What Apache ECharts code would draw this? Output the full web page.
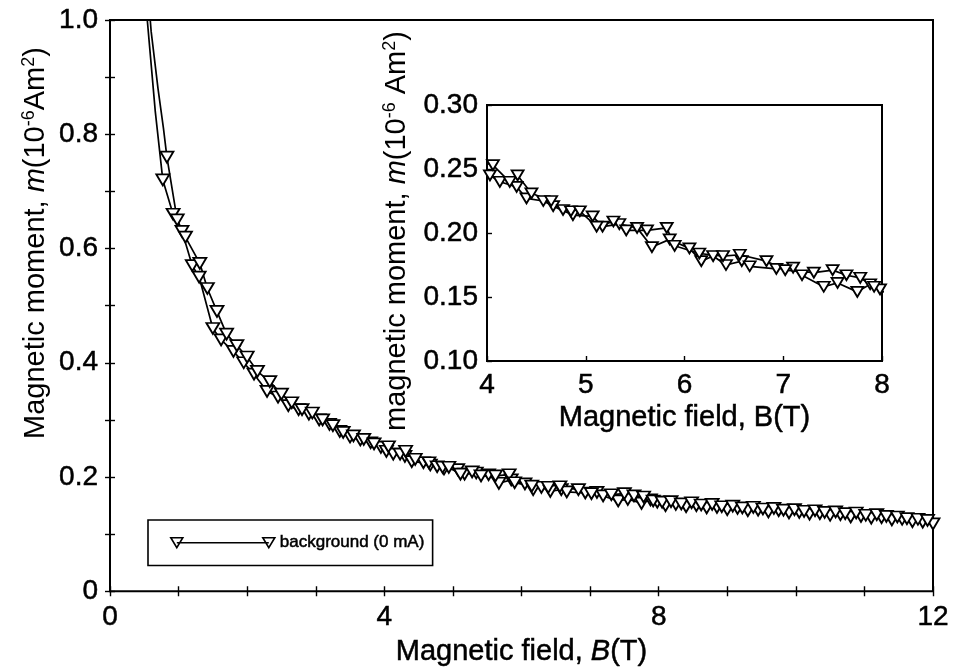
<!DOCTYPE html>
<html><head><meta charset="utf-8">
<script src="https://cdn.jsdelivr.net/npm/echarts@6/dist/echarts.min.js"></script>
<style>html,body{margin:0;padding:0;background:#fff}#c{width:955px;height:672px}</style>
</head><body><div id="c"></div>
<script>
// ---------- data ----------
const seriesName = 'background (0 mA)';
const fieldA = [0.42,0.50,0.58,0.66,0.77,0.92,1.05,1.20,1.30,1.50,1.62,1.80,1.95,2.10,2.29,2.45,2.60,2.75,2.90,3.05,3.20,3.35,3.50,3.65,3.80,3.95,4.03,4.13,4.30,4.40,4.57,4.67,4.87,5.07,5.17,5.34,5.52,5.67,5.85,6.05,6.17,6.29,6.42,6.58,6.66,6.93,7.10,7.19,7.41,7.55,7.75,7.88,7.98,8.10,8.25,8.40,8.55,8.70,8.85,9.00,9.15,9.30,9.45,9.60,9.75,9.90,10.05,10.20,10.35,10.50,10.65,10.80,10.95,11.10,11.25,11.40,11.55,11.70,11.85,12.00];
const momentA = [1.20,1.06,0.95,0.84,0.72,0.66,0.63,0.57,0.55,0.46,0.44,0.42,0.40,0.38,0.35,0.34,0.325,0.318,0.31,0.30,0.292,0.28,0.27,0.265,0.26,0.252,0.245,0.240,0.236,0.227,0.225,0.221,0.214,0.213,0.205,0.207,0.204,0.189,0.195,0.188,0.178,0.182,0.175,0.178,0.174,0.172,0.173,0.167,0.158,0.161,0.154,0.160,0.156,0.150,0.152,0.148,0.150,0.146,0.147,0.143,0.145,0.141,0.142,0.139,0.141,0.137,0.138,0.135,0.136,0.133,0.134,0.130,0.131,0.128,0.129,0.125,0.126,0.122,0.121,0.118];
const fieldB = [0.45,0.52,0.60,0.70,0.78,0.83,0.98,1.10,1.31,1.42,1.56,1.70,1.85,2.00,2.15,2.33,2.50,2.65,2.80,2.95,3.10,3.25,3.40,3.55,3.70,3.85,4.06,4.23,4.31,4.45,4.65,4.77,4.85,4.94,5.11,5.28,5.41,5.62,5.82,5.90,6.15,6.39,6.56,6.83,7.02,7.31,7.50,7.64,7.78,7.92,8.05,8.18,8.33,8.48,8.62,8.78,8.92,9.08,9.22,9.38,9.52,9.68,9.82,9.98,10.12,10.28,10.42,10.58,10.72,10.88,11.02,11.18,11.32,11.48,11.62,11.78,11.92];
const momentB = [1.25,1.10,0.98,0.88,0.81,0.76,0.65,0.62,0.574,0.53,0.49,0.45,0.43,0.41,0.385,0.367,0.345,0.33,0.318,0.312,0.30,0.29,0.278,0.272,0.266,0.258,0.253,0.240,0.245,0.231,0.225,0.218,0.217,0.217,0.205,0.209,0.202,0.202,0.204,0.190,0.184,0.182,0.183,0.178,0.171,0.169,0.171,0.167,0.165,0.158,0.156,0.157,0.153,0.155,0.151,0.152,0.148,0.149,0.146,0.147,0.144,0.145,0.142,0.143,0.140,0.141,0.138,0.139,0.136,0.137,0.133,0.134,0.131,0.130,0.127,0.126,0.124];

const mainXTicks = [0, 4, 8, 12];
const mainYTicks = [0, 0.2, 0.4, 0.6, 0.8, 1.0];
const mainYTickText = ['0', '0.2', '0.4', '0.6', '0.8', '1.0'];
const insetXTicks = [4, 5, 6, 7, 8];
const insetYTicks = [0.10, 0.15, 0.20, 0.25, 0.30];
const insetYTickText = ['0.10', '0.15', '0.20', '0.25', '0.30'];

// ---------- helpers ----------
const FONT = '"Liberation Sans", Arial, sans-serif';
const TRI = 'path://M0,0L12,0L6,10Z';
const pairs = (xs, ys) => xs.map((x, i) => [x, ys[i]]);
const pick = (ticks, texts, v) => {
  for (let i = 0; i < ticks.length; i++) if (Math.abs(ticks[i] - v) < 1e-6) return texts[i];
  return '';
};
const tickStyle = {inside: true, length: 5, lineStyle: {color: '#000', width: 1.4}};
const heavy = {textBorderColor: '#000', textBorderWidth: 0.5};
const labelStyle = Object.assign({color: '#000', fontSize: 28, fontFamily: FONT, showMinLabel: true, showMaxLabel: true}, heavy);
const tFont = 29;
const richTitle = {
  n: Object.assign({fontSize: tFont, fontFamily: FONT, color: '#000', lineHeight: 32}, heavy),
  i: Object.assign({fontSize: tFont, fontFamily: FONT, fontStyle: 'italic', color: '#000', lineHeight: 32}, heavy),
  s: Object.assign({fontSize: 18, fontFamily: FONT, color: '#000', verticalAlign: 'top', lineHeight: 18}, heavy)
};
const gRich = {
  n: {fontSize: tFont, fontFamily: FONT, fill: '#000', lineHeight: 32},
  i: {fontSize: tFont, fontFamily: FONT, fontStyle: 'italic', fill: '#000', lineHeight: 32},
  s: {fontSize: 18, fontFamily: FONT, fill: '#000', verticalAlign: 'top', lineHeight: 18}
};

function lineSeries(xs, ys, xi, yi, size) {
  return {
    type: 'line', name: seriesName, data: pairs(xs, ys),
    xAxisIndex: xi, yAxisIndex: yi,
    symbol: (v) => (v[1] > 0.78 ? 'none' : TRI),
    symbolSize: size, showAllSymbol: true, clip: true,
    lineStyle: {color: '#000', width: 1.7},
    itemStyle: {color: '#fff', borderColor: '#000', borderWidth: 1.8},
    emphasis: {disabled: true}, z: 3
  };
}

const chart = echarts.init(document.getElementById('c'));
chart.setOption({
  animation: false,
  backgroundColor: '#fff',
  grid: [
    {left: 110, top: 20, width: 823, height: 580, show: true, borderColor: '#000', borderWidth: 2, backgroundColor: 'transparent'},
    {left: 487, top: 105, width: 395, height: 256, show: true, borderColor: '#000', borderWidth: 2, backgroundColor: '#fff'}
  ],
  xAxis: [
    {gridIndex: 0, type: 'value', min: 0, max: 12, interval: 1, position: 'bottom',
     axisLine: {show: false}, splitLine: {show: false}, axisTick: tickStyle,
     axisLabel: Object.assign({}, labelStyle, {margin: 12, formatter: v => (mainXTicks.includes(v) ? String(v) : '')}),
     name: '{n|Magnetic field, }{i|B}{n|(T)}', nameLocation: 'middle', nameGap: 45,
     nameTextStyle: {rich: richTitle}},
    {gridIndex: 0, type: 'value', min: 0, max: 12, interval: 1, position: 'top',
     axisLine: {show: false}, splitLine: {show: false}, axisTick: tickStyle, axisLabel: {show: false}},
    {gridIndex: 1, type: 'value', min: 4, max: 8, interval: 1, position: 'bottom',
     axisLine: {show: false}, splitLine: {show: false}, axisTick: tickStyle,
     axisLabel: Object.assign({}, labelStyle, {margin: 10, formatter: v => (insetXTicks.includes(v) ? String(v) : '')}),
     name: '{n|Magnetic field, B(T)}', nameLocation: 'middle', nameGap: 41,
     nameTextStyle: {rich: richTitle}}
  ],
  yAxis: [
    {gridIndex: 0, type: 'value', min: 0, max: 1.0, interval: 0.1, position: 'left',
     axisLine: {show: false}, splitLine: {show: false}, axisTick: tickStyle,
     axisLabel: Object.assign({}, labelStyle, {margin: 12, formatter: v => pick(mainYTicks, mainYTickText, v)})},
    {gridIndex: 0, type: 'value', min: 0, max: 1.0, interval: 0.1, position: 'right',
     axisLine: {show: false}, splitLine: {show: false}, axisTick: tickStyle, axisLabel: {show: false}},
    {gridIndex: 1, type: 'value', min: 0.10, max: 0.30, interval: 0.05, position: 'left',
     axisLine: {show: false}, splitLine: {show: false}, axisTick: tickStyle,
     axisLabel: Object.assign({}, labelStyle, {margin: 9, formatter: v => pick(insetYTicks, insetYTickText, v)})}
  ],
  legend: {
    data: [seriesName], left: 148, top: 520, orient: 'horizontal',
    icon: 'path://M0,0L12,0L6,10ZM6,5L98,5M92,0L104,0L98,10Z',
    itemWidth: 104, itemHeight: 11,
    itemStyle: {color: '#fff', borderColor: '#000', borderWidth: 1.6},
    borderColor: '#000', borderWidth: 1.6, borderRadius: 0,
    padding: [14, 8, 14, 22],
    textStyle: {fontSize: 17, fontFamily: FONT, color: '#000', textBorderColor: '#000', textBorderWidth: 0.5},
    selectedMode: false
  },
  graphic: [
    {type: 'text', x: 36, y: 243, rotation: Math.PI / 2,
     style: {text: '{n|Magnetic moment, }{i|m}{n|(10}{s|-6}{n|Am}{s|2}{n|)}', align: 'center', verticalAlign: 'middle', rich: gRich}},
    {type: 'text', x: 397, y: 231, rotation: Math.PI / 2, z: 10,
     style: {text: '{n|magnetic moment, }{i|m}{n|(10}{s|-6}{n| Am}{s|2}{n|)}', align: 'center', verticalAlign: 'middle', rich: gRich}}
  ],
  series: [
    lineSeries(fieldA, momentA, 0, 0, [13, 11]),
    lineSeries(fieldB, momentB, 0, 0, [13, 11]),
    lineSeries(fieldA, momentA, 2, 2, [12, 10]),
    lineSeries(fieldB, momentB, 2, 2, [12, 10])
  ]
});
</script></body></html>
